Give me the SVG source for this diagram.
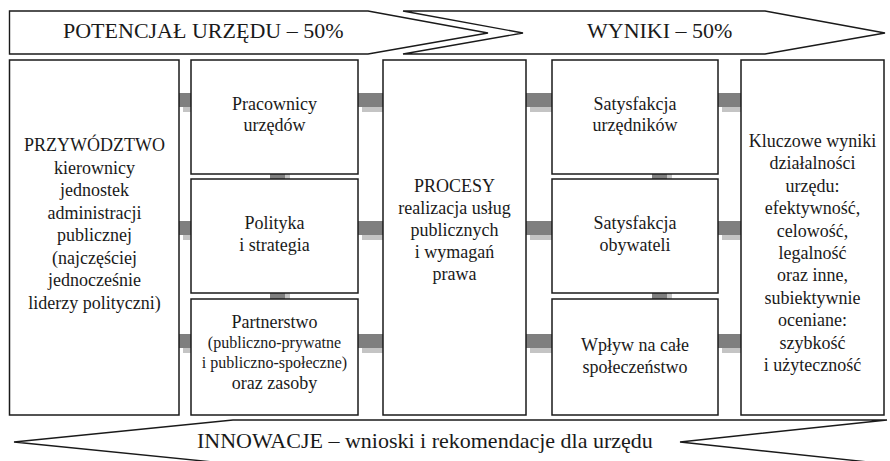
<svg xmlns="http://www.w3.org/2000/svg" width="890" height="461" viewBox="0 0 890 461">
<style>
.box{fill:#fff;stroke:#1a1a1a;stroke-width:1.5}
.arr{fill:#fff;stroke:#1a1a1a;stroke-width:1.4;stroke-linejoin:miter}
.t{font-family:'Liberation Serif','DejaVu Serif',serif;font-size:18px;fill:#1a1a1a;text-anchor:middle}
.s{font-size:16px}
.h{font-family:'Liberation Serif','DejaVu Serif',serif;font-size:22px;fill:#1a1a1a}
.dk{fill:#7f7f7f}
.lt{fill:#c4c4c4}
</style>
<rect width="890" height="461" fill="#fff"/>
<g id="arrows">
<polygon class="arr" points="9.5,11 368,11 488,33 368,54 9.5,54"/>
<polygon class="arr" points="403,11 765,11 885,33 765,54 403,54 523,33"/>
<polygon class="arr" points="233,420 887,420 680,442 887,464 233,464 14,442"/>
<text class="h" x="63" y="38" font-family="Liberation Serif, DejaVu Serif, serif">POTENCJAŁ URZĘDU – 50%</text>
<text class="h" x="587" y="38" font-family="Liberation Serif, DejaVu Serif, serif">WYNIKI – 50%</text>
<text class="h" x="197" y="448" font-family="Liberation Serif, DejaVu Serif, serif">INNOWACJE – wnioski i rekomendacje dla urzędu</text>
</g>
<g id="connectors">
<rect class="lt" x="183" y="98" width="12" height="14"/><rect class="dk" x="179" y="93" width="12" height="14"/>
<rect class="lt" x="183" y="226" width="12" height="14"/><rect class="dk" x="179" y="221" width="12" height="14"/>
<rect class="lt" x="183" y="339" width="12" height="14"/><rect class="dk" x="179" y="334" width="12" height="14"/>
<rect class="lt" x="362" y="98" width="25" height="14"/><rect class="dk" x="358" y="93" width="25" height="14"/>
<rect class="lt" x="362" y="226" width="25" height="14"/><rect class="dk" x="358" y="221" width="25" height="14"/>
<rect class="lt" x="362" y="339" width="25" height="14"/><rect class="dk" x="358" y="334" width="25" height="14"/>
<rect class="lt" x="530" y="98" width="26" height="14"/><rect class="dk" x="526" y="93" width="26" height="14"/>
<rect class="lt" x="530" y="226" width="26" height="14"/><rect class="dk" x="526" y="221" width="26" height="14"/>
<rect class="lt" x="530" y="339" width="26" height="14"/><rect class="dk" x="526" y="334" width="26" height="14"/>
<rect class="lt" x="722" y="98" width="23" height="14"/><rect class="dk" x="718" y="93" width="23" height="14"/>
<rect class="lt" x="722" y="226" width="23" height="14"/><rect class="dk" x="718" y="221" width="23" height="14"/>
<rect class="lt" x="722" y="339" width="23" height="14"/><rect class="dk" x="718" y="334" width="23" height="14"/>
<rect class="lt" x="275" y="170" width="15" height="12"/><rect class="dk" x="270" y="170" width="15" height="12"/>
<rect class="lt" x="275" y="290" width="15" height="12"/><rect class="dk" x="270" y="290" width="15" height="12"/>
<rect class="lt" x="657" y="170" width="15" height="12"/><rect class="dk" x="652" y="170" width="15" height="12"/>
<rect class="lt" x="657" y="290" width="15" height="12"/><rect class="dk" x="652" y="290" width="15" height="12"/>
</g>
<g id="przywodztwo" font-family="Liberation Serif, DejaVu Serif, serif">
<rect class="box" x="9.5" y="60" width="169.5" height="355"/>
<text class="t" x="94.5" y="151">PRZYWÓDZTWO</text>
<text class="t" x="94.5" y="173.5">kierownicy</text>
<text class="t" x="94.5" y="196">jednostek</text>
<text class="t" x="94.5" y="218.5">administracji</text>
<text class="t" x="94.5" y="241">publicznej</text>
<text class="t" x="94.5" y="263.5">(najczęściej</text>
<text class="t" x="94.5" y="286">jednocześnie</text>
<text class="t" x="94.5" y="308.5">liderzy polityczni)</text>
</g>
<g id="pracownicy">
<rect class="box" x="191" y="60" width="167" height="114"/>
<text class="t" x="274.5" y="110">Pracownicy</text>
<text class="t" x="274.5" y="131">urzędów</text>
</g>
<g id="polityka">
<rect class="box" x="191" y="179" width="167" height="114"/>
<text class="t" x="274.5" y="229">Polityka</text>
<text class="t" x="274.5" y="251">i strategia</text>
</g>
<g id="partnerstwo">
<rect class="box" x="191" y="299" width="167" height="116"/>
<text class="t" x="274.5" y="328">Partnerstwo</text>
<text class="t s" x="274.5" y="348">(publiczno-prywatne</text>
<text class="t s" x="274.5" y="368">i publiczno-społeczne)</text>
<text class="t" x="274.5" y="389">oraz zasoby</text>
</g>
<g id="procesy">
<rect class="box" x="383" y="60" width="143" height="355"/>
<text class="t" x="454.5" y="192">PROCESY</text>
<text class="t" x="454.5" y="214">realizacja usług</text>
<text class="t" x="454.5" y="236">publicznych</text>
<text class="t" x="454.5" y="258">i wymagań</text>
<text class="t" x="454.5" y="280">prawa</text>
</g>
<g id="satysfakcja-urzednikow">
<rect class="box" x="552" y="60" width="166" height="114"/>
<text class="t" x="635" y="110">Satysfakcja</text>
<text class="t" x="635" y="131">urzędników</text>
</g>
<g id="satysfakcja-obywateli">
<rect class="box" x="552" y="179" width="166" height="114"/>
<text class="t" x="635" y="229">Satysfakcja</text>
<text class="t" x="635" y="251">obywateli</text>
</g>
<g id="wplyw">
<rect class="box" x="552" y="299" width="166" height="116"/>
<text class="t" x="635" y="351">Wpływ na całe</text>
<text class="t" x="635" y="373">społeczeństwo</text>
</g>
<g id="kluczowe-wyniki">
<rect class="box" x="741" y="60" width="143" height="355"/>
<text class="t" x="812.5" y="147">Kluczowe wyniki</text>
<text class="t" x="812.5" y="169.4">działalności</text>
<text class="t" x="812.5" y="191.8">urzędu:</text>
<text class="t" x="812.5" y="214.2">efektywność,</text>
<text class="t" x="812.5" y="236.6">celowość,</text>
<text class="t" x="812.5" y="259">legalność</text>
<text class="t" x="812.5" y="281.4">oraz inne,</text>
<text class="t" x="812.5" y="303.8">subiektywnie</text>
<text class="t" x="812.5" y="326.2">oceniane:</text>
<text class="t" x="812.5" y="348.6">szybkość</text>
<text class="t" x="812.5" y="371">i użyteczność</text>
</g>
</svg>
